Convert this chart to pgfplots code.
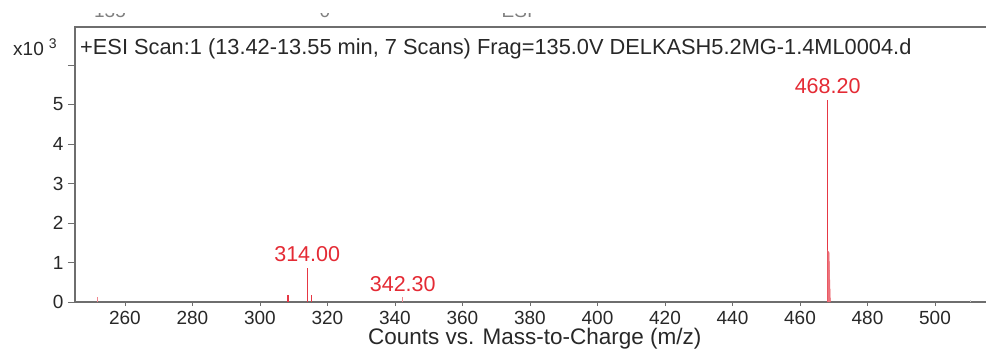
\documentclass[border=0pt]{standalone}
\usepackage{pgfplots}
\pgfplotsset{compat=1.18}
\usepackage{fontspec}
\setmainfont{Liberation Sans}
\definecolor{peak}{RGB}{230,55,68}
\definecolor{lbl}{RGB}{228,42,52}
\definecolor{txt}{RGB}{40,40,40}
\definecolor{frame}{RGB}{110,110,110}
\begin{document}
\begin{tikzpicture}
\begin{axis}[
  scale only axis, width=912.3pt, height=275pt,
  xmin=245.2, xmax=515.5, ymin=0, ymax=6.96,
  xtick={260,280,...,500},
  ytick={0,1,...,6}, yticklabels={0,1,2,3,4,5,{}},
  tick align=outside, tick pos=left,
  major tick length=7pt,
  xtick style={/pgfplots/major tick length=4pt},
  tick style={draw=frame, line width=0.8pt},
  axis line style={draw=frame, line width=1.2pt},
  font=\fontsize{19}{22}\selectfont,
  /pgf/number format/assume math mode=true,
  ticklabel style={text=txt},
  xticklabel style={yshift=-2pt, inner sep=0pt},
  yticklabel style={xshift=-1pt},
  xlabel={Counts vs. Mass-to-Charge (m/z)},
  xlabel style={at={(axis description cs:0.504,0)}, anchor=center, yshift=-37pt,
    text=txt, inner sep=0pt, font=\fontsize{22.5}{24}\selectfont},
  clip=false,
]
\coordinate (O) at (rel axis cs:0,0);
% centroid sticks
\addplot[peak, line width=1.2pt, ycomb, mark=none] coordinates {
  (308.3,0.18) (314.0,0.87) (315.2,0.17) (468.2,5.12)
};
% weak ions
\addplot[peak!60, line width=1pt, ycomb, mark=none] coordinates {
  (251.8,0.13) (342.3,0.12)
};
\addplot[gray!40, line width=1pt, ycomb, mark=none] coordinates {
  (510.4,0.05)
};
% isotope shoulder of the base peak
\addplot[peak!80, fill=peak!70, line width=0.5pt, mark=none] coordinates {
  (468.15,0) (468.2,1.3) (468.6,1.25) (469.0,0)
};
% peak annotations
\node[lbl, anchor=south, yshift=2pt, font=\fontsize{21.5}{24}\selectfont] at (axis cs:314.0,0.87) {314.00};
\node[lbl, anchor=south, yshift=2pt, font=\fontsize{21.5}{24}\selectfont] at (axis cs:342.3,0.12) {342.30};
\node[lbl, anchor=south, yshift=2pt, font=\fontsize{21.5}{24}\selectfont] at (axis cs:468.2,5.12) {468.20};
\end{axis}
% scan header and scale factor
\node[txt, anchor=base west, inner sep=0pt, font=\fontsize{21.8}{24}\selectfont]
  at ([xshift=5pt, yshift=248pt]O)
  {+ESI Scan:1 (13.42-13.55 min, 7 Scans) Frag=135.0V DELKASH5.2MG-1.4ML0004.d};
\node[txt, anchor=base west, inner sep=0pt, font=\fontsize{19}{22}\selectfont]
  at ([xshift=-62pt, yshift=247pt]O)
  {x10\hspace{5pt}\raisebox{7pt}{\fontsize{14}{16}\selectfont 3}};
% header row of the table above, cut off
\begin{scope}
  \clip ([xshift=-75pt, yshift=284pt]O) rectangle ([xshift=911pt, yshift=289pt]O);
  \node[gray, anchor=base, inner sep=0pt, font=\fontsize{19}{22}\selectfont] at ([xshift=35pt, yshift=285pt]O) {135};
  \node[gray, anchor=base, inner sep=0pt, font=\fontsize{19}{22}\selectfont] at ([xshift=250pt, yshift=285pt]O) {0};
  \node[gray, anchor=base, inner sep=0pt, font=\fontsize{19}{22}\selectfont] at ([xshift=442pt, yshift=285pt]O) {ESI};
\end{scope}
\pgfresetboundingbox
\useasboundingbox (O) ++(-75pt,-47pt) rectangle ++(986pt,349pt);
\end{tikzpicture}
\end{document}
